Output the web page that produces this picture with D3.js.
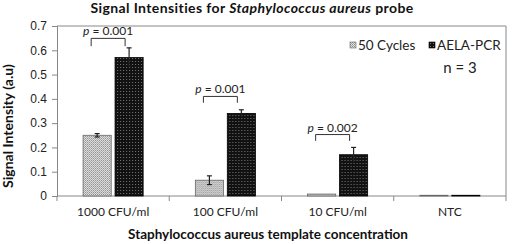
<!DOCTYPE html>
<html>
<head>
<meta charset="utf-8">
<script src="https://cdn.jsdelivr.net/npm/d3@7"></script>
<style>
  body { margin:0; background:#fff; }
  svg { display:block; font-family: Lato, "Open Sans", sans-serif; }
</style>
</head>
<body>
<div id="chart"></div>
<script>
(function(){

const categories = ["1000 CFU/ml", "100 CFU/ml", "10 CFU/ml", "NTC"];
const series = ["50 Cycles", "AELA-PCR"];
const cycles50 = [0.25, 0.065, 0.008, 0.003];
const cycles50Err = [0.007, 0.018, 0.002, 0.001];
const aelaPcr = [0.57, 0.34, 0.17, 0.003];
const aelaPcrErr = [0.04, 0.015, 0.03, 0.001];
const yTicks = [0, 0.1, 0.2, 0.3, 0.4, 0.5, 0.6, 0.7];
// significance brackets: p label, top value, leg value
const pLabels = ["0.001", "0.001", "0.002"];
const pTop = [0.649, 0.41, 0.253];
const pLeg = [0.617, 0.384, 0.227];

const width = 512;
const height = 244;
const margin = {top:26, right:6, bottom:48, left:57};

const svg = d3.select("#chart")
  .append("svg")
  .attr("width", width)
  .attr("height", height);

// patterns
const defs = svg.append("defs");
const pg = defs.append("pattern")
  .attr("id", "patGray")
  .attr("width", 2).attr("height", 2)
  .attr("patternUnits", "userSpaceOnUse");
pg.append("rect").attr("width", 2).attr("height", 2).attr("fill", "#e4e4e4");
pg.append("rect").attr("width", 1).attr("height", 1).attr("fill", "#8a8a8a");
pg.append("rect").attr("x", 1).attr("y", 1).attr("width", 1).attr("height", 1).attr("fill", "#a8a8a8");

const pb = defs.append("pattern")
  .attr("id", "patBlack")
  .attr("width", 3).attr("height", 3)
  .attr("patternUnits", "userSpaceOnUse");
pb.append("rect").attr("width", 3).attr("height", 3).attr("fill", "#111");
pb.append("rect").attr("x", 1).attr("y", 1).attr("width", 1).attr("height", 1).attr("fill", "#777");

const fills = {"50 Cycles": "url(#patGray)", "AELA-PCR": "url(#patBlack)"};
const strokes = {"50 Cycles": "#666", "AELA-PCR": "#000"};

// scales
const x0 = d3.scaleBand()
  .domain(categories)
  .range([margin.left, width - margin.right])
  .paddingInner(0.465)
  .paddingOuter(0.2325);

const x1 = d3.scaleBand()
  .domain(series)
  .range([0, x0.bandwidth()])
  .paddingInner(0.12);

const y = d3.scaleLinear()
  .domain([0, 0.7])
  .range([height - margin.bottom, margin.top]);

// plot border (top & right)
svg.append("path")
  .attr("d", `M${margin.left},${margin.top}H${width - margin.right}V${height - margin.bottom}`)
  .attr("fill", "none")
  .attr("stroke", "#888")
  .attr("stroke-width", 1);

// y axis
const yAxis = svg.append("g")
  .attr("transform", `translate(${margin.left},0)`)
  .call(d3.axisLeft(y).tickValues(yTicks).tickSize(5).tickPadding(5)
    .tickFormat(d => d === 0 ? "0" : d3.format(".1f")(d)));
yAxis.select(".domain").attr("stroke", "#888");
yAxis.selectAll(".tick line").attr("stroke", "#888");
yAxis.selectAll("text").style("font-size", "12px").attr("fill", "#222");

// x axis
const step = x0.step();
const boundaries = d3.range(categories.length + 1).map(i => margin.left + i * step);
svg.append("line")
  .attr("x1", margin.left).attr("x2", width - margin.right)
  .attr("y1", y(0)).attr("y2", y(0))
  .attr("stroke", "#888");
svg.selectAll(".xtick")
  .data(boundaries)
  .enter()
  .append("line")
  .attr("x1", d => d).attr("x2", d => d)
  .attr("y1", y(0)).attr("y2", y(0) + 5)
  .attr("stroke", "#888");
svg.selectAll(".xlabel")
  .data(categories)
  .enter()
  .append("text")
  .attr("x", d => x0(d) + x0.bandwidth()/2)
  .attr("y", 216)
  .attr("text-anchor", "middle")
  .style("font-size", "12px")
  .attr("fill", "#222")
  .text(d => d);

// bars
const rows = categories.map((c, i) => ({
  cat: c,
  vals: [
    {s: series[0], v: cycles50[i], e: cycles50Err[i]},
    {s: series[1], v: aelaPcr[i], e: aelaPcrErr[i]}
  ]
}));

const groups = svg.selectAll(".grp")
  .data(rows)
  .enter()
  .append("g")
  .attr("transform", d => `translate(${x0(d.cat)},0)`);

groups.selectAll("rect")
  .data(d => d.vals)
  .enter()
  .append("rect")
  .attr("x", d => x1(d.s))
  .attr("y", d => y(d.v))
  .attr("width", x1.bandwidth())
  .attr("height", d => y(0) - y(d.v))
  .attr("fill", d => fills[d.s])
  .attr("stroke", d => strokes[d.s])
  .attr("stroke-width", 0.8);

// error bars
const err = groups.selectAll(".err")
  .data(d => d.vals.filter(v => v.e > 0.002))
  .enter()
  .append("g")
  .attr("stroke", "#222")
  .attr("stroke-width", 1.2);
err.append("line")
  .attr("x1", d => x1(d.s) + x1.bandwidth()/2)
  .attr("x2", d => x1(d.s) + x1.bandwidth()/2)
  .attr("y1", d => y(d.v + d.e))
  .attr("y2", d => y(Math.max(0, d.v - d.e)));
err.append("line")
  .attr("x1", d => x1(d.s) + x1.bandwidth()/2 - 2.5)
  .attr("x2", d => x1(d.s) + x1.bandwidth()/2 + 2.5)
  .attr("y1", d => y(d.v + d.e))
  .attr("y2", d => y(d.v + d.e));
err.filter(d => d.s === series[0]).append("line")
  .attr("x1", d => x1(d.s) + x1.bandwidth()/2 - 2.5)
  .attr("x2", d => x1(d.s) + x1.bandwidth()/2 + 2.5)
  .attr("y1", d => y(d.v - d.e))
  .attr("y2", d => y(d.v - d.e));

// significance brackets
pLabels.forEach((p, i) => {
  const c = categories[i];
  const xl = x0(c) + x1(series[0]) + x1.bandwidth()/2 - 6;
  const xr = x0(c) + x1(series[1]) + x1.bandwidth()/2 - 4;
  svg.append("path")
    .attr("d", `M${xl},${y(pLeg[i])}V${y(pTop[i])}H${xr}V${y(pLeg[i])}`)
    .attr("fill", "none")
    .attr("stroke", "#333")
    .attr("stroke-width", 1);
  const t = svg.append("text")
    .attr("x", (xl + xr)/2)
    .attr("y", y(pTop[i]) - 3)
    .attr("text-anchor", "middle")
    .style("font-size", "12px")
    .attr("fill", "#222");
  t.append("tspan").style("font-style", "italic").text("p");
  t.append("tspan").text(" = " + p);
});

// legend
const legendX = [350, 429];
const legend = svg.selectAll(".legend")
  .data(series)
  .enter()
  .append("g")
  .attr("transform", (d, i) => `translate(${legendX[i]},42)`);
legend.append("rect")
  .attr("width", 6).attr("height", 6)
  .attr("fill", d => fills[d])
  .attr("stroke", d => strokes[d])
  .attr("stroke-width", 0.6);
legend.append("text")
  .attr("x", 8)
  .attr("y", 8)
  .style("font-size", "13.5px")
  .attr("fill", "#222")
  .text(d => d);

svg.append("text")
  .attr("x", 460)
  .attr("y", 73)
  .attr("text-anchor", "middle")
  .style("font-size", "15px")
  .attr("fill", "#222")
  .text("n = 3");

// title
const title = svg.append("text")
  .attr("x", 252)
  .attr("y", 13)
  .attr("text-anchor", "middle")
  .style("font-size", "14px")
  .style("letter-spacing", "0.4px")
  .style("font-weight", "bold")
  .attr("fill", "#111");
title.append("tspan").text("Signal Intensities for ");
title.append("tspan").style("font-style", "italic").text("Staphylococcus aureus");
title.append("tspan").text(" probe");

// axis titles
svg.append("text")
  .attr("x", 268)
  .attr("y", 239)
  .attr("text-anchor", "middle")
  .style("font-size", "13.5px")
  .style("font-weight", "bold")
  .attr("fill", "#111")
  .text("Staphylococcus aureus template concentration");

svg.append("text")
  .attr("transform", "rotate(-90)")
  .attr("x", -126)
  .attr("y", 13)
  .attr("text-anchor", "middle")
  .style("font-size", "14px")
  .style("font-weight", "bold")
  .attr("fill", "#111")
  .text("Signal Intensity (a.u)");

})();
</script>
</body>
</html>
